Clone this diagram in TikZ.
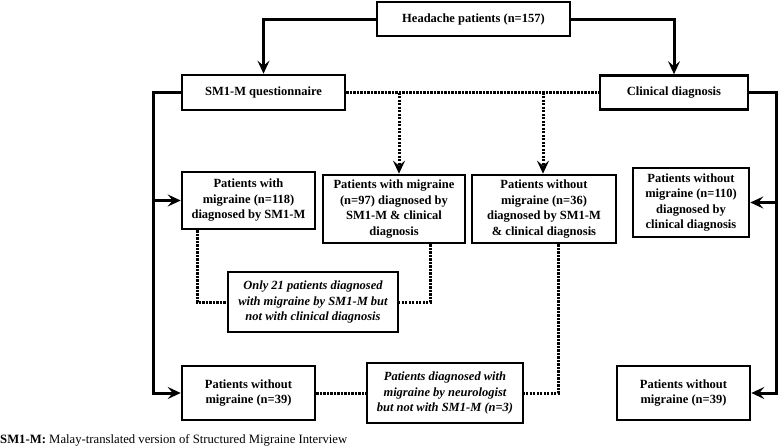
\documentclass[tikz,border=0pt]{standalone}
\usepackage{fontspec}
\setmainfont{Liberation Serif}
\usetikzlibrary{arrows.meta}
\begin{document}
\begin{tikzpicture}[x=1pt,y=-1pt,
  box/.style={draw=black,line width=2.6pt,align=center,inner sep=0pt,
    font=\fontsize{12.5}{15.5}\selectfont\bfseries},
  ibox/.style={box,font=\fontsize{12.5}{15.5}\selectfont\bfseries\itshape},
  conn/.style={line width=3pt,-{Stealth[length=13pt,width=12pt,inset=5pt]}},
  dotline/.style={line width=3pt,dash pattern=on 2.2pt off 1.3pt},
  dotarrow/.style={dotline,-{Stealth[length=13pt,width=12pt,inset=5pt]}}]
\useasboundingbox (0,0) rectangle (779,447);
% nodes
\node[box,minimum width=193pt,minimum height=34pt] (head) at (473.5,19) {Headache patients (n=157)};
\node[box,minimum width=163pt,minimum height=35pt] (smq) at (263.5,92.5) {SM1-M questionnaire};
\node[box,minimum width=148pt,minimum height=34pt] (clin) at (674,92.5) {Clinical diagnosis};
\node[box,minimum width=133pt,minimum height=57pt] (p118) at (248.5,200.5) {Patients with\\migraine (n=118)\\diagnosed by SM1-M};
\node[box,minimum width=142pt,minimum height=68pt] (p97) at (394,209) {Patients with migraine\\(n=97) diagnosed by\\SM1-M \& clinical\\diagnosis};
\node[box,minimum width=144pt,minimum height=68pt] (p36) at (544,209) {Patients without\\migraine (n=36)\\diagnosed by SM1-M\\\& clinical diagnosis};
\node[box,minimum width=116pt,minimum height=69pt] (p110) at (691,202.5) {Patients without\\migraine (n=110)\\diagnosed by\\clinical diagnosis};
\node[ibox,minimum width=170pt,minimum height=60pt] (only21) at (313,302) {Only 21 patients diagnosed\\with migraine by SM1-M but\\not with clinical diagnosis};
\node[box,minimum width=133pt,minimum height=54pt] (p39a) at (248.5,393) {Patients without\\migraine (n=39)};
\node[ibox,minimum width=156pt,minimum height=60pt] (p3) at (445,393) {Patients diagnosed with\\migraine by neurologist\\but not with SM1-M (n=3)};
\node[box,minimum width=133pt,minimum height=54pt] (p39b) at (683.5,393) {Patients without\\migraine (n=39)};
\node[anchor=base west,inner sep=0pt,font=\fontsize{12.7}{14}\selectfont] (foot) at (0,443) {\textbf{SM1-M:} Malay-translated version of Structured Migraine Interview};
% helper coordinates
\coordinate (lx) at (153,0);
\coordinate (rx) at (776.5,0);
\coordinate (a1) at (399,0);
\coordinate (a2) at (543,0);
\coordinate (d1) at (197,0);
\coordinate (d2) at (430,0);
\coordinate (d3) at (558,0);
% solid connectors
\draw[conn] (head.west) -| (smq.north);
\draw[conn] (head.east) -| (clin.north);
\draw[conn] (smq.west) -| (lx |- p39a.west) -- (p39a.west);
\draw[conn] (lx |- p118.west) -- (p118.west);
\draw[conn] (clin.east) -| (rx |- p39b.east) -- (p39b.east);
\draw[conn] (rx |- p110.east) -- (p110.east);
% dotted connectors
\draw[dotline] (smq.east) -- (clin.west);
\draw[dotarrow] (a1 |- smq.east) -- (a1 |- p97.north);
\draw[dotarrow] (a2 |- smq.east) -- (a2 |- p36.north);
\draw[dotline] (d1 |- p118.south) |- (only21.west);
\draw[dotline] (d2 |- p97.south) |- (only21.east);
\draw[dotline] (p39a.east) -- (p3.west);
\draw[dotline] (d3 |- p36.south) |- (p3.east);
\end{tikzpicture}
\end{document}
